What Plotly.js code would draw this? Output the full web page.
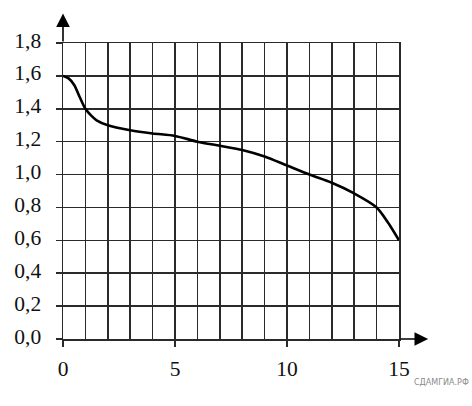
<!DOCTYPE html>
<html>
<head>
<meta charset="utf-8">
<script src="https://cdn.plot.ly/plotly-3.0.1.min.js"></script>
<style>html,body{margin:0;padding:0;background:#fff;}#chart{width:472px;height:406px;}</style>
</head>
<body>
<div id="chart"></div>
<script>
// Data
const xValues = [0, 0.25, 0.5, 0.75, 1, 1.25, 1.5, 2, 3, 4, 5, 6, 7, 8, 9, 10, 11, 12, 13, 14, 14.5, 15];
const yValues = [1.6, 1.585, 1.545, 1.47, 1.40, 1.36, 1.33, 1.30, 1.27, 1.25, 1.235, 1.2, 1.175, 1.15, 1.11, 1.055, 1.0, 0.95, 0.885, 0.8, 0.71, 0.6];
const xTickVals = [0, 5, 10, 15];
const yTickVals = [0, 0.2, 0.4, 0.6, 0.8, 1.0, 1.2, 1.4, 1.6, 1.8];
const watermark = 'СДАМГИА.РФ';

const gridColor = '#2a2a2a';
const labelFont = {family: '"Liberation Serif", "Times New Roman", serif', size: 21.5, color: '#111'};

const trace = {
  x: xValues, y: yValues, type: 'scatter', mode: 'lines',
  line: {color: '#000', width: 2.6, shape: 'spline', smoothing: 0.8},
  hoverinfo: 'skip'
};

const layout = {
  width: 472, height: 406,
  margin: {l: 63, r: 73, t: 43, b: 67},
  paper_bgcolor: '#fff', plot_bgcolor: '#fff',
  separators: ', ',
  showlegend: false,
  xaxis: {
    range: [0, 15], tickvals: xTickVals, ticktext: xTickVals.map(String),
    ticks: 'outside', ticklen: 6, tickwidth: 1.5, tickcolor: gridColor,
    showgrid: true, gridcolor: gridColor, gridwidth: 1.5,
    minor: {dtick: 1, tick0: 0, showgrid: true, gridcolor: gridColor, gridwidth: 1.5, ticks: ''},
    showline: true, linecolor: gridColor, linewidth: 1.5, mirror: true,
    zeroline: false, tickfont: labelFont, ticklabelstandoff: 4, fixedrange: true
  },
  yaxis: {
    range: [0, 1.8], tickvals: yTickVals, tickformat: '.1f',
    ticks: 'outside', ticklen: 6, tickwidth: 1.5, tickcolor: gridColor,
    showgrid: true, gridcolor: gridColor, gridwidth: 1.5,
    showline: true, linecolor: gridColor, linewidth: 1.5, mirror: true,
    zeroline: false, tickfont: labelFont, ticklabelstandoff: 10, ticklabelshift: -3, fixedrange: true
  },
  annotations: [
    {x: 0, y: 1.98, ax: 0, ay: 1.8, xref: 'x', yref: 'y', axref: 'x', ayref: 'y',
     showarrow: true, arrowhead: 2, arrowsize: 1.7, arrowwidth: 1.6, arrowcolor: '#000', text: ''},
    {x: 16.3, y: 0, ax: 15, ay: 0, xref: 'x', yref: 'y', axref: 'x', ayref: 'y',
     showarrow: true, arrowhead: 2, arrowsize: 1.7, arrowwidth: 1.6, arrowcolor: '#000', text: ''},
    {x: 1, y: 0, xref: 'paper', yref: 'paper', xanchor: 'right', yanchor: 'top', yshift: -37, xshift: 72,
     showarrow: false, text: watermark,
     font: {family: '"DejaVu Sans", sans-serif', size: 8, color: '#8a8a8a'}}
  ]
};

Plotly.newPlot('chart', [trace], layout, {staticPlot: true, displayModeBar: false});
</script>
</body>
</html>
